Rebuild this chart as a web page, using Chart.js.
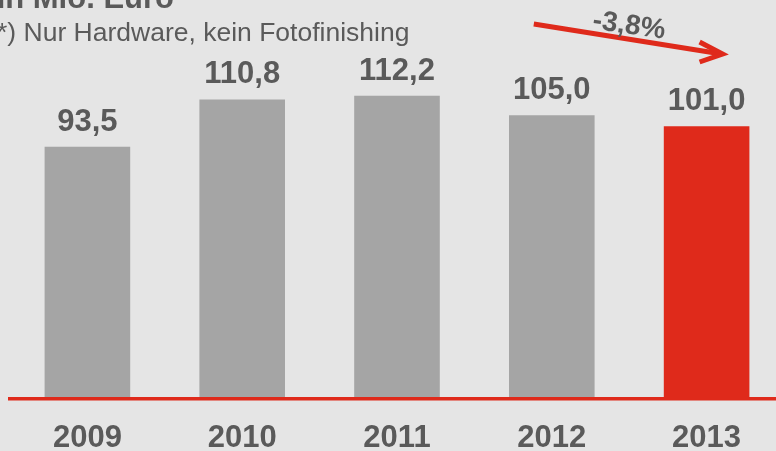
<!DOCTYPE html>
<html>
<head>
<meta charset="utf-8">
<script src="https://cdn.jsdelivr.net/npm/chart.js@4"></script>
<style>
  html, body { margin: 0; padding: 0; background: #e5e5e5; overflow: hidden; }
  #wrap { position: relative; width: 790px; height: 451px; }
</style>
</head>
<body>
<div id="wrap"><canvas id="marketChart"></canvas></div>
<script>
const years = ['2009', '2010', '2011', '2012', '2013'];
const revenue = [93.5, 110.8, 112.2, 105.0, 101.0];
const valueLabels = ['93,5', '110,8', '112,2', '105,0', '101,0'];
const barColors = ['#a5a5a5', '#a5a5a5', '#a5a5a5', '#a5a5a5', '#df2a1b'];
const changeLabel = '-3,8%';

const FONT = '"Liberation Sans", Arial, sans-serif';
const TEXT = '#5a5a5a';
const RED = '#df2a1b';

// value labels, trend arrow and the cut-off heading
const extras = {
  id: 'extras',
  afterDatasetsDraw(chart) {
    const ctx = chart.ctx;
    const bars = chart.getDatasetMeta(0).data;
    ctx.save();
    ctx.fillStyle = TEXT;
    ctx.textAlign = 'center';
    ctx.textBaseline = 'alphabetic';
    ctx.font = 'bold 31px ' + FONT;
    bars.forEach((bar, i) => {
      ctx.fillText(valueLabels[i], bar.x, bar.y - 16);
    });

    // heading (partly outside the picture)
    ctx.textAlign = 'right';
    ctx.font = 'bold 31px ' + FONT;
    ctx.fillText('in Mio. Euro', 174, 8);
    ctx.textAlign = 'left';
    ctx.font = '26.5px ' + FONT;
    ctx.fillText('*) Nur Hardware, kein Fotofinishing', -3, 41);

    // arrow from 2012 to 2013
    const x0 = bars[3].x - 18, y0 = 24;
    const x1 = bars[4].x + 15, y1 = 54;
    ctx.strokeStyle = RED;
    ctx.lineWidth = 5;
    ctx.lineCap = 'butt';
    ctx.beginPath();
    ctx.moveTo(x0, y0);
    ctx.lineTo(x1, y1);
    ctx.stroke();
    ctx.beginPath();
    ctx.moveTo(x1 - 22, y1 - 12);
    ctx.lineTo(x1 + 1, y1);
    ctx.lineTo(x1 - 22, y1 + 8);
    ctx.stroke();

    ctx.translate(629, 26);
    ctx.rotate(8 * Math.PI / 180);
    ctx.textAlign = 'center';
    ctx.textBaseline = 'middle';
    ctx.font = 'bold 28px ' + FONT;
    ctx.fillStyle = TEXT;
    ctx.fillText(changeLabel, 0, 0);
    ctx.restore();
  }
};

const ctx = document.getElementById('marketChart').getContext('2d');
new Chart(ctx, {
  type: 'bar',
  data: {
    labels: years,
    datasets: [{
      data: revenue,
      backgroundColor: barColors,
      borderWidth: 0,
      barPercentage: 0.553,
      categoryPercentage: 1
    }]
  },
  options: {
    responsive: true,
    maintainAspectRatio: false,
    animation: false,
    layout: { padding: { left: 10, right: 6, top: 0, bottom: 0 } },
    plugins: {
      legend: { display: false },
      tooltip: { enabled: false }
    },
    scales: {
      x: {
        grid: { display: false, drawTicks: true, tickLength: 26 },
        border: { display: true, color: RED, width: 3.5, z: 1 },
        ticks: {
          color: TEXT,
          padding: 0,
          font: { family: FONT, size: 31, weight: 'bold', lineHeight: 0.84 }
        }
      },
      y: {
        display: false,
        min: 1.5,
        max: 147.1
      }
    }
  },
  plugins: [extras]
});
</script>
</body>
</html>
